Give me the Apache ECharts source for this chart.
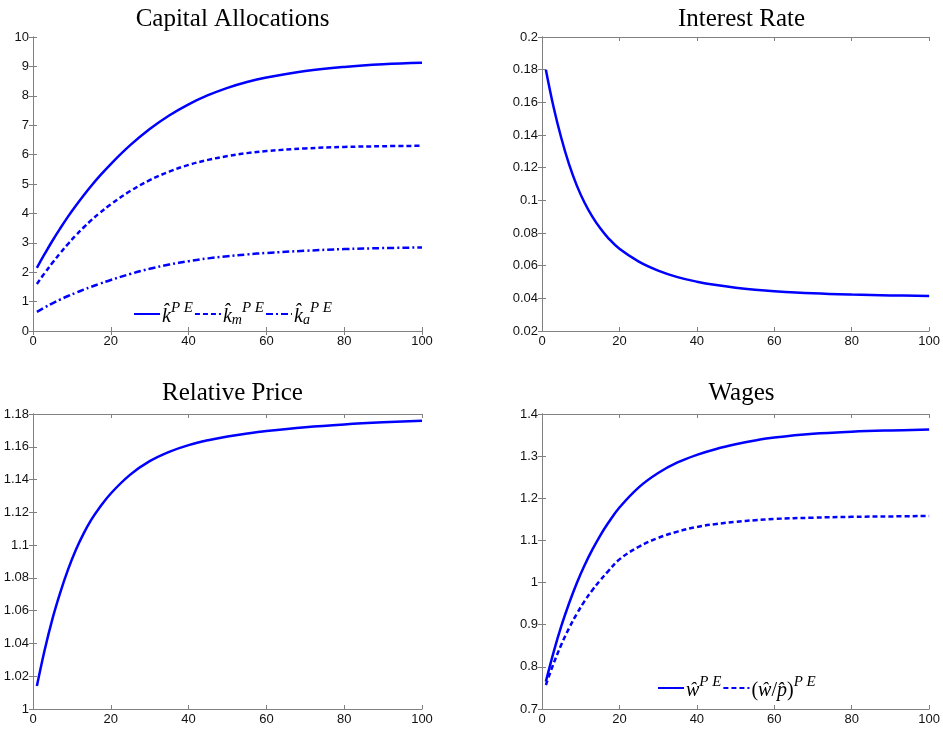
<!DOCTYPE html>
<html><head><meta charset="utf-8">
<script src="https://cdn.jsdelivr.net/npm/echarts@6/dist/echarts.min.js"></script>
<style>html,body{margin:0;padding:0;background:#fff}#c{width:943px;height:732px}</style>
</head><body><div id="c"></div>
<script>
const periods = [1,3,5,7,9,11,13,15,17,20,25,30,35,40,45,50,55,60,70,80,90,100];
const kPE  = [2.15,2.62,3.07,3.49,3.89,4.26,4.61,4.94,5.25,5.68,6.32,6.87,7.33,7.71,8.02,8.27,8.47,8.62,8.84,8.98,9.07,9.12];
const kmPE = [1.6,1.97,2.32,2.65,2.96,3.25,3.52,3.77,4.0,4.31,4.76,5.13,5.42,5.65,5.82,5.95,6.05,6.12,6.21,6.26,6.285,6.3];
const kaPE = [0.65,0.8,0.94,1.07,1.19,1.3,1.405,1.505,1.6,1.735,1.94,2.115,2.26,2.375,2.47,2.545,2.605,2.655,2.73,2.785,2.82,2.84];
const rate = [0.18,0.157,0.138,0.122,0.109,0.0985,0.09,0.083,0.0772,0.0703,0.0625,0.057,0.053,0.0502,0.0481,0.0465,0.0453,0.0444,0.0431,0.0423,0.0418,0.0415];
const price = [1.014,1.036,1.055,1.071,1.085,1.097,1.107,1.1155,1.1225,1.1315,1.143,1.1512,1.1569,1.161,1.164,1.1663,1.1681,1.1696,1.1719,1.1736,1.1749,1.1759];
const wPE  = [0.765,0.835,0.897,0.951,0.999,1.041,1.078,1.111,1.14,1.178,1.226,1.26,1.285,1.303,1.317,1.328,1.337,1.344,1.353,1.358,1.361,1.363];
const wpPE = [0.757,0.808,0.853,0.892,0.926,0.956,0.982,1.005,1.026,1.055,1.085,1.106,1.121,1.132,1.139,1.144,1.148,1.151,1.154,1.156,1.157,1.158];
const titles = ['Capital Allocations','Interest Rate','Relative Price','Wages'];
const yRanges = [[0,10,1],[0.02,0.2,0.02],[1,1.18,0.02],[0.7,1.4,0.1]];
const xTicks = [0,100,20];

const grids = [
  {left:33, top:37, width:389, height:294},
  {left:542, top:37, width:389, height:294},
  {left:33, top:414, width:389, height:295},
  {left:542, top:414, width:389, height:295}
];
const axisCol = '#808080';
const lblFont = {color:'#111', fontSize:13, fontFamily:'Liberation Sans, Arial, sans-serif'};
const xAxis = [], yAxis = [], title = [];
grids.forEach((g,i)=>{
  xAxis.push({gridIndex:i, type:'value', min:xTicks[0], max:xTicks[1], interval:xTicks[2], position:'bottom',
    axisLine:{show:true,lineStyle:{color:axisCol}}, axisTick:{show:true,inside:true,length:4,lineStyle:{color:axisCol}},
    splitLine:{show:false}, axisLabel:Object.assign({margin:4}, lblFont)});
  xAxis.push({gridIndex:i, type:'value', min:xTicks[0], max:xTicks[1], interval:xTicks[2], position:'top',
    axisLine:{show:true,lineStyle:{color:axisCol}}, axisTick:{show:true,inside:true,length:4,lineStyle:{color:axisCol}},
    splitLine:{show:false}, axisLabel:{show:false}});
  const yr = yRanges[i];
  yAxis.push({gridIndex:i, type:'value', min:yr[0], max:yr[1], interval:yr[2], position:'left',
    axisLine:{show:true,lineStyle:{color:axisCol}}, axisTick:{show:true,inside:true,length:4,lineStyle:{color:axisCol}},
    splitLine:{show:false}, axisLabel:Object.assign({margin:4}, lblFont)});
  yAxis.push({gridIndex:i, type:'value', min:yr[0], max:yr[1], interval:yr[2], position:'right',
    axisLine:{show:true,lineStyle:{color:axisCol}}, axisTick:{show:true,inside:true,length:4,lineStyle:{color:axisCol}},
    splitLine:{show:false}, axisLabel:{show:false}});
  title.push({text:titles[i], left:g.left+g.width/2, top:g.top-(i<2?35:38), textAlign:'center',
    textStyle:{fontFamily:'Liberation Serif, Times New Roman, serif', fontWeight:'normal', fontSize:25, color:'#000'}});
});
const pairs = arr => periods.map((p,j)=>[p,arr[j]]);
const blue = '#0000ff';
function mk(name, arr, gi, type){
  return {name, type:'line', xAxisIndex:gi*2, yAxisIndex:gi*2, data:pairs(arr), smooth:0.4,
    showSymbol:false, symbol:'none',
    lineStyle:{color:blue, width:2.5, type:type}, itemStyle:{color:blue}, animation:false};
}
const dash = [5,3], dashdot = [7,3,2,3];
const series = [
  mk('k', kPE, 0, 'solid'), mk('km', kmPE, 0, dash), mk('ka', kaPE, 0, dashdot),
  mk('r', rate, 1, 'solid'), mk('p', price, 2, 'solid'),
  mk('w', wPE, 3, 'solid'), mk('wp', wpPE, 3, dash)
];
const serif = 'Liberation Serif, Times New Roman, serif';
const rich = {
  b:{fontFamily:serif, fontStyle:'italic', fontSize:20, lineHeight:26, verticalAlign:'bottom', color:'#000'},
  r:{fontFamily:serif, fontSize:20, lineHeight:26, verticalAlign:'bottom', color:'#000'},
  sup:{fontFamily:serif, fontStyle:'italic', fontSize:15, lineHeight:16, verticalAlign:'top', color:'#000'},
  sub:{fontFamily:serif, fontStyle:'italic', fontSize:14, lineHeight:12, verticalAlign:'bottom', color:'#000'}
};
const legendText = {
  k:'{b|k\u0302}{sup|P E}', km:'{b|k\u0302}{sub|m}{sup|P E}', ka:'{b|k\u0302}{sub|a}{sup|P E}',
  w:'{b|\u0175}{sup|P E}', wp:'{r|(}{b|\u0175}{r|/}{b|p\u0302}{r|)}{sup|P E}'
};
const legendCommon = {orient:'horizontal', itemWidth:26, itemHeight:14, itemGap:1,
  itemStyle:{color:'rgba(0,0,0,0)', borderWidth:0, opacity:0},
  formatter: n=>legendText[n], textStyle:{rich, padding:[0,0,0,-3]}, selectedMode:false};
const legend = [
  Object.assign({}, legendCommon, {data:['k','km','ka'], left:128, top:296}),
  Object.assign({}, legendCommon, {data:['w','wp'], left:652, top:670})
];
const chart = echarts.init(document.getElementById('c'), null, {renderer:'canvas'});
chart.setOption({backgroundColor:'#fff', animation:false, title, grid:grids, xAxis, yAxis, legend, series});
</script></body></html>
